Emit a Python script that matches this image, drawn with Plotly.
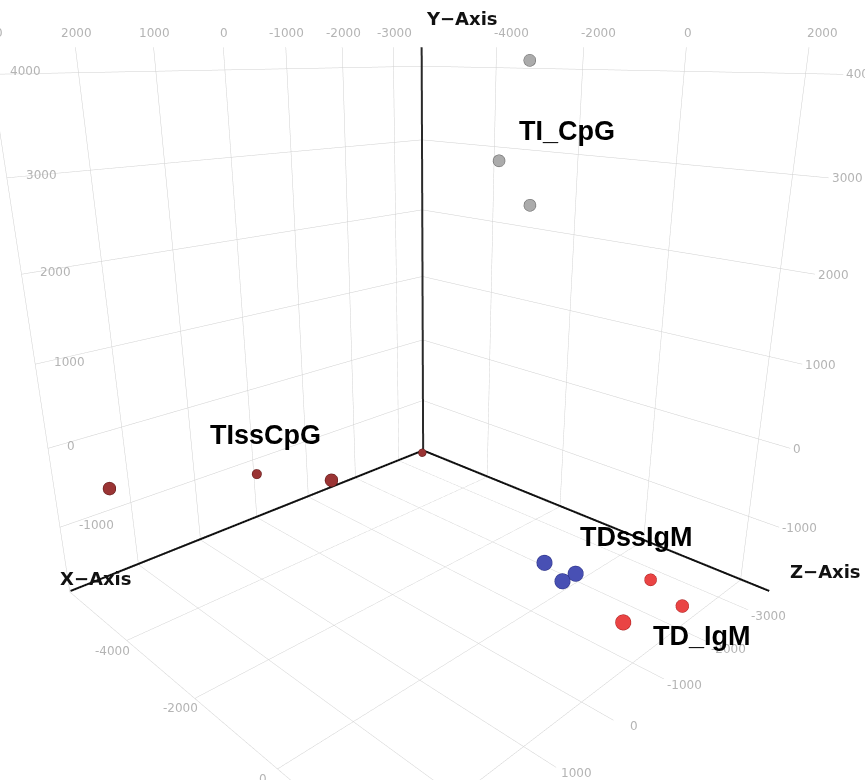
import plotly.graph_objects as go

# ---- axis ranges and ticks (data units) ----
X_RANGE = [-3600, 3000]
Z_RANGE = [-6000, 2550]
Y_RANGE = [-1870, 4250]

x_ticks = [-3000, -2000, -1000, 0, 1000, 2000, 3000]
z_ticks = [-4000, -2000, 0, 2000]
y_ticks = [-1000, 0, 1000, 2000, 3000, 4000]

# ---- data (X, Y, Z) ----
ti_cpg_x = [-3400, -3400, -3400]
ti_cpg_y = [4100, 2850, 2330]
ti_cpg_z = [-2980, -3650, -2860]

tiss_x = [2450, 100, -1180, -3500]
tiss_y = [-550, -1110, -1540, -1850]
tiss_z = [-5500, -5700, -5500, -5900]

tdss_x = [-1600, -1670, -1400]
tdss_y = [-1560, -1560, -1560]
tdss_z = [-360, 240, 230]

td_x = [-2300, -2050, -870]
td_y = [-1600, -1600, -1350]
td_z = [1200, 2000, 1880]

fig = go.Figure()

def add_group(xs, ys, zs, fill, edge, sizes):
    fig.add_trace(go.Scatter3d(
        x=xs, y=zs, z=ys, mode="markers",
        marker=dict(size=sizes, color=fill, opacity=1,
                    line=dict(color=edge, width=1)),
        hoverinfo="skip", showlegend=False))

add_group(ti_cpg_x, ti_cpg_y, ti_cpg_z, "#ababab", "#5e5e5e", [14, 14, 14])
add_group(tiss_x, tiss_y, tiss_z, "#9a3434", "#5a1414", [15, 11, 15, 9])
add_group(tdss_x, tdss_y, tdss_z, "#4850b4", "#262c80", [18, 18, 18])
add_group(td_x, td_y, td_z, "#ea4444", "#a81c1c", [14, 15, 18])

x0, x1 = X_RANGE
z0, z1 = Z_RANGE
y0, y1 = Y_RANGE

# axis lines from the back corner (nudged just inside the box to avoid clipping)
ex = (x1 - x0) * 0.004
ez = (z1 - z0) * 0.004
ey = (y1 - y0) * 0.004
xa, za, ya = x0 + ex, z0 + ez, y0 + ey
for xs, zs, ys, col in [([xa, x1], [za, za], [ya, ya], "#111111"),
                        ([xa, xa], [za, za], [ya, y1], "#2a2a2a"),
                        ([xa, xa], [za, z1], [ya, ya], "#111111")]:
    fig.add_trace(go.Scatter3d(x=xs, y=zs, z=ys, mode="lines",
                               line=dict(color=col, width=4),
                               hoverinfo="skip", showlegend=False))

tick_font = dict(family="DejaVu Sans", size=12, color="#b4b4b4")
ann = []
for t in x_ticks:
    ann.append(dict(x=t, y=za, z=y1, text=str(t), yshift=14, font=tick_font))
    ann.append(dict(x=t, y=z1, z=ya, text=str(t), xshift=20, yshift=-8, font=tick_font))
for t in z_ticks:
    ann.append(dict(x=xa, y=t, z=y1, text=str(t), xanchor="left", xshift=-3, yshift=14, font=tick_font))
    ann.append(dict(x=x1, y=t, z=ya, text=str(t), xshift=-14, yshift=-12, font=tick_font))
for t in y_ticks:
    ann.append(dict(x=x1, y=za, z=t, text=str(t), xanchor="left", xshift=16, yshift=3, font=tick_font))
    ann.append(dict(x=xa, y=z1, z=t, text=str(t), xanchor="left", xshift=2, yshift=0, font=tick_font))

title_font = dict(family="DejaVu Sans", size=18, color="#111111")
ann.append(dict(x=x1, y=za, z=ya, text="<b>X\u2212Axis</b>", xanchor="left", xshift=-12, yshift=12, font=title_font))
ann.append(dict(x=xa, y=za, z=y1, text="<b>Y\u2212Axis</b>", xanchor="left", xshift=2, yshift=29, font=title_font))
ann.append(dict(x=xa, y=z1, z=ya, text="<b>Z\u2212Axis</b>", xanchor="left", xshift=19, yshift=19, font=title_font))

lab_font = dict(family="Liberation Sans", size=27, color="#000000")
def centroid(v):
    return sum(v) / len(v)
ann.append(dict(x=centroid(ti_cpg_x), y=centroid(ti_cpg_z), z=centroid(ti_cpg_y),
                text="<b>TI_CpG</b>", xshift=48, yshift=12, font=lab_font))
ann.append(dict(x=centroid(tiss_x), y=centroid(tiss_z), z=centroid(tiss_y),
                text="<b>TIssCpG</b>", xshift=-28, yshift=37, font=lab_font))
ann.append(dict(x=centroid(tdss_x), y=centroid(tdss_z), z=centroid(tdss_y),
                text="<b>TDssIgM</b>", xshift=76, yshift=35, font=lab_font))
ann.append(dict(x=centroid(td_x), y=centroid(td_z), z=centroid(td_y),
                text="<b>TD_IgM</b>", xshift=49, yshift=-34, font=lab_font))
for a in ann:
    a["showarrow"] = False

ax_common = dict(showticklabels=False, showbackground=False, showspikes=False,
                 zeroline=False, showline=False, gridcolor="#cfcfcf", gridwidth=1,
                 title=dict(text=""), ticks="")

fig.update_layout(
    width=865, height=780, margin=dict(l=0, r=0, t=0, b=0),
    paper_bgcolor="white",
    scene=dict(
        domain=dict(x=[0, 1], y=[0, 1]),
        xaxis=dict(range=X_RANGE, tickvals=x_ticks, autorange=False, **ax_common),
        yaxis=dict(range=Z_RANGE, tickvals=z_ticks, autorange=False, **ax_common),
        zaxis=dict(range=Y_RANGE, tickvals=y_ticks, autorange=False, **ax_common),
        aspectmode="manual", aspectratio=dict(x=1.0, y=1.0, z=1.034),
        camera=dict(eye=dict(x=1.147, y=1.183, z=0.517),
                    center=dict(x=0.001, y=0.037, z=-0.073),
                    up=dict(x=0, y=0, z=1), projection=dict(type="perspective")),
        annotations=ann,
    ),
)

fig.write_html("out.html")
